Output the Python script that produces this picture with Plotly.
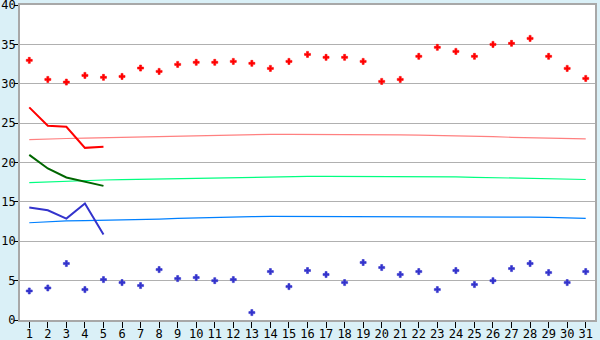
import plotly.graph_objects as go

days = list(range(1, 32))
day_labels = [str(d) for d in days]

max_temp = [32.97, 30.55, 30.21, 31.06, 30.81, 30.93, 31.99, 31.57, 32.46, 32.72,
            32.72, 32.84, 32.59, 31.95, 32.84, 33.73, 33.35, 33.35, 32.84, 30.3,
            30.55, 33.48, 34.62, 34.11, 33.48, 35.0, 35.13, 35.76, 33.48, 31.95, 30.68]
min_temp = [3.69, 4.07, 7.17, 3.86, 5.13, 4.75, 4.37, 6.4, 5.26, 5.39,
            5.0, 5.13, 0.94, 6.15, 4.24, 6.28, 5.77, 4.75, 7.3, 6.66,
            5.77, 6.15, 3.86, 6.28, 4.5, 5.0, 6.53, 7.17, 6.02, 4.75, 6.15]

forecast_days = [1, 2, 3, 4, 5]
forecast_max = [27.0, 24.66, 24.53, 21.86, 21.99]
forecast_mean = [20.97, 19.24, 18.1, 17.54, 17.03]
forecast_min = [14.29, 13.94, 12.88, 14.8, 10.85]

normal_max = [22.9, 23.0, 23.05, 23.1, 23.15, 23.2, 23.28, 23.33, 23.4, 23.44,
              23.48, 23.52, 23.55, 23.58, 23.58, 23.58, 23.58, 23.58, 23.58, 23.56,
              23.5, 23.47, 23.44, 23.4, 23.33, 23.28, 23.2, 23.15, 23.08, 23.04, 23.0]
normal_mean = [17.45, 17.55, 17.65, 17.72, 17.78, 17.83, 17.87, 17.92, 17.97, 18.03,
               18.08, 18.13, 18.17, 18.2, 18.23, 18.23, 18.23, 18.23, 18.23, 18.23,
               18.23, 18.22, 18.2, 18.17, 18.12, 18.08, 18.03, 17.98, 17.93, 17.88, 17.84]
normal_min = [12.35, 12.5, 12.58, 12.63, 12.66, 12.7, 12.75, 12.82, 12.9, 12.97,
              13.03, 13.08, 13.12, 13.15, 13.15, 13.15, 13.15, 13.15, 13.15, 13.15,
              13.15, 13.15, 13.15, 13.15, 13.15, 13.15, 13.12, 13.06, 13.02, 12.97, 12.9]

y_ticks = [0, 5, 10, 15, 20, 25, 30, 35, 40]

fig = go.Figure()

fig.add_trace(go.Scatter(x=days, y=normal_max, mode="lines",
                         line=dict(color="#FF8080", width=1.2)))
fig.add_trace(go.Scatter(x=days, y=normal_mean, mode="lines",
                         line=dict(color="#00FF80", width=1.2)))
fig.add_trace(go.Scatter(x=days, y=normal_min, mode="lines",
                         line=dict(color="#0080FF", width=1.2)))

fig.add_trace(go.Scatter(x=forecast_days, y=forecast_max, mode="lines",
                         line=dict(color="#FF0000", width=2)))
fig.add_trace(go.Scatter(x=forecast_days, y=forecast_mean, mode="lines",
                         line=dict(color="#006600", width=2)))
fig.add_trace(go.Scatter(x=forecast_days, y=forecast_min, mode="lines",
                         line=dict(color="#3333CC", width=2)))

fig.add_trace(go.Scatter(x=days, y=max_temp, mode="markers",
                         marker=dict(symbol="cross", size=5, color="#FF0000",
                                     line=dict(width=0.6, color="#FF0000"))))
fig.add_trace(go.Scatter(x=days, y=min_temp, mode="markers",
                         marker=dict(symbol="cross", size=5, color="#3333CC",
                                     line=dict(width=0.6, color="#3333CC"))))

fig.update_layout(
    width=600, height=340,
    margin=dict(l=20, r=5, t=5, b=20, autoexpand=False),
    paper_bgcolor="#DAF0F7",
    plot_bgcolor="#FFFFFF",
    showlegend=False,
    font=dict(family="DejaVu Sans Mono", size=12, color="#000000"),
)
fig.update_xaxes(
    range=[0.5, 31.5], automargin=False, ticklabeloverflow="allow",
    tickmode="array", tickvals=days, ticktext=day_labels,
    showgrid=False, zeroline=False,
    showline=True, linecolor="#A8A8A8", linewidth=2, mirror=True,
    ticks="outside", ticklen=6, tickcolor="#000000", tickwidth=1,
    ticklabelstandoff=-4,
    tickfont=dict(size=12),
)
fig.update_yaxes(
    range=[0, 40], automargin=False, ticklabeloverflow="allow",
    tickmode="array", tickvals=y_ticks, ticktext=[str(v) for v in y_ticks],
    showgrid=True, gridcolor="#B0B0B0", gridwidth=1, zeroline=False,
    showline=True, linecolor="#A8A8A8", linewidth=2, mirror=True,
    ticks="outside", ticklen=4, tickcolor="#000000", tickwidth=1,
    ticklabelstandoff=-4,
    tickfont=dict(size=12),
)

fig.write_html("out.html")
